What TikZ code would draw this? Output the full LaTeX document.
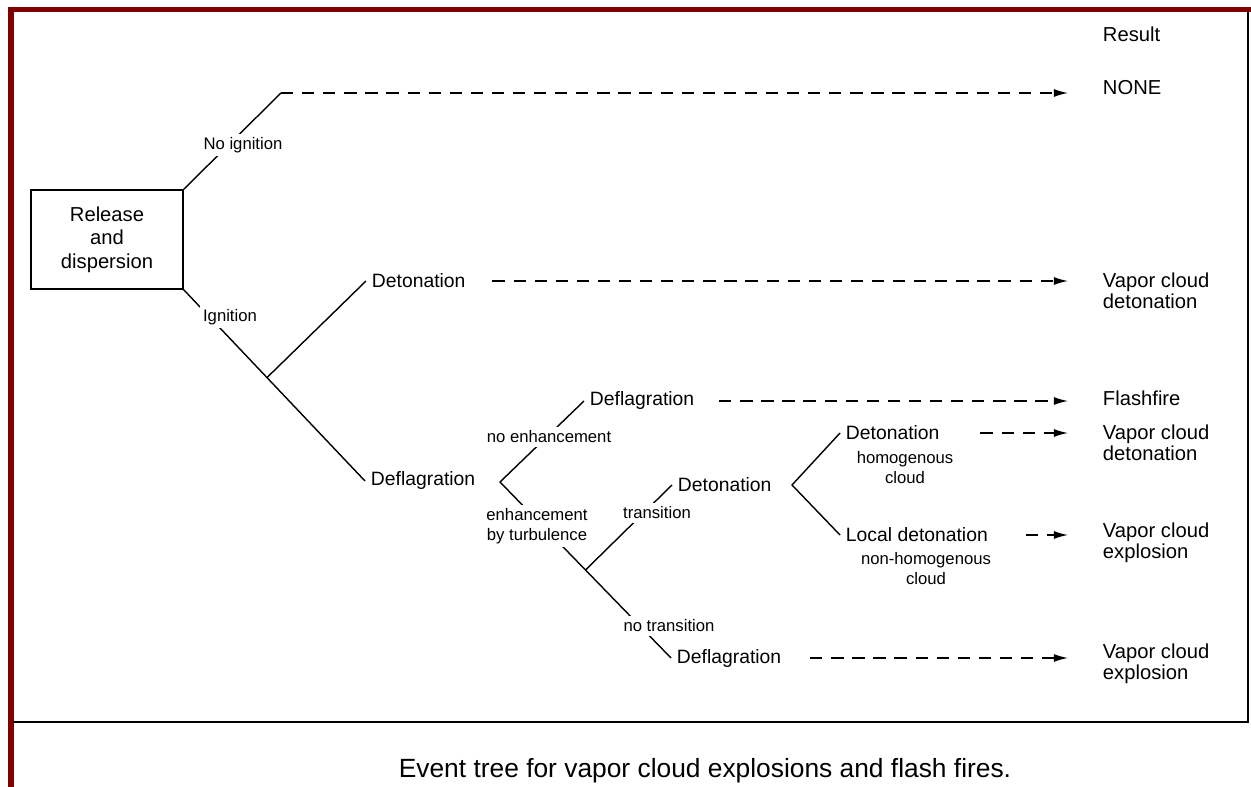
\documentclass[tikz,border=0pt]{standalone}
\usepackage{fontspec}
\setmainfont{Liberation Sans}
\usetikzlibrary{arrows.meta,calc}
\definecolor{framered}{RGB}{128,0,0}
\begin{document}
\begin{tikzpicture}[x=0.02cm, y=-0.02cm, line width=0.8pt,
    evt/.style={anchor=west, inner sep=3pt, font=\fontsize{11}{13}\selectfont},
    res/.style={anchor=west, inner sep=3pt, align=left, font=\fontsize{11.5}{12}\selectfont},
    lbl/.style={fill=white, inner sep=2pt, align=center, font=\fontsize{9.5}{11.5}\selectfont},
    flow/.style={dash pattern=on 7pt off 5pt, -{Latex[length=8pt,width=4.5pt]}, shorten >=0.58cm}]
    \useasboundingbox (0,0) rectangle (1251,787);

    \draw[framered, line width=2.8pt] (8,9.5) -- (1251,9.5);
    \draw[framered, line width=3.2pt] (11,8) -- (11,787);
    \draw[line width=1.2pt] (1248,11) -- (1248,722);
    \draw[line width=1.6pt] (13,722) -- (1249,722);

    \node[draw, line width=0.6pt, minimum width=3.04cm, minimum height=1.98cm, align=center,
        font=\fontsize{11.5}{13.5}\selectfont] (rel) at (107,239.5) {Release\\and\\dispersion};

    \node[res] (result) at (1097,34) {Result};
    \node[res] (none) at (1097,88) {NONE};
    \node[res] (vcd1) at (1097,291) {Vapor cloud\\detonation};
    \node[res] (ff) at (1097,398) {Flashfire};
    \node[res] (vcd2) at (1097,442.5) {Vapor cloud\\detonation};
    \node[res] (vce1) at (1097,543) {Vapor cloud\\explosion};
    \node[res] (vce2) at (1097,664) {Vapor cloud\\explosion};

    \node[evt] (det1) at (366,281) {Detonation};
    \node[evt] (def1) at (365,481) {Deflagration};
    \node[evt] (def2) at (584,401) {Deflagration};
    \node[evt] (det2) at (672,485) {Detonation};
    \node[evt] (def3) at (671,658) {Deflagration};
    \node[evt] (det3) at (840,433) {Detonation};
    \node[evt] (ldet) at (840,535) {Local detonation};

    \coordinate (ni) at (281,93);
    \coordinate (b1) at ($(rel.south east)!0.46!(def1.west)$);
    \coordinate (v1) at (500,482);
    \coordinate (b2) at ($(v1)!0.5!(def3.west)$);
    \coordinate (v2) at (792,485);

    \draw (rel.north east) -- (ni);
    \draw (rel.south east) -- (def1.west);
    \draw (b1) -- (det1.west);
    \draw (def2.west) -- (v1) -- (def3.west);
    \draw (b2) -- (det2.west);
    \draw (det3.west) -- (v2) -- (ldet.west);

    \node[lbl] (lni) at (243,145) {No ignition};
    \node[lbl] (lig) at (230,317) {Ignition};
    \node[lbl] (lne) at (549,437) {no enhancement};
    \node[lbl] (let) at (537,526) {enhancement\\by turbulence};
    \node[lbl] (ltr) at (657,513) {transition};
    \node[lbl] (lnt) at (669,626) {no transition};
    \node[lbl] (lhc) at (905,467.5) {homogenous\\cloud};
    \node[lbl] (lnhc) at (926,568.5) {non-homogenous\\cloud};

    \draw[flow] (ni) -- (ni -| none.west);
    \draw[flow, shorten <=0.42cm] (det1.east) -- (det1.east -| vcd1.west);
    \draw[flow, shorten <=0.38cm] (def2.east) -- (def2.east -| ff.west);
    \draw[flow, shorten <=0.7cm] (det3.east) -- (det3.east -| vcd2.west);
    \draw[flow, shorten <=0.64cm] (ldet.east) -- (ldet.east -| vce1.west);
    \draw[flow, shorten <=0.46cm] (def3.east) -- (def3.east -| vce2.west);

    \node[font=\fontsize{15}{18}\selectfont] (cap) at (705,771) {Event tree for vapor cloud explosions and flash fires.};
\end{tikzpicture}
\end{document}
